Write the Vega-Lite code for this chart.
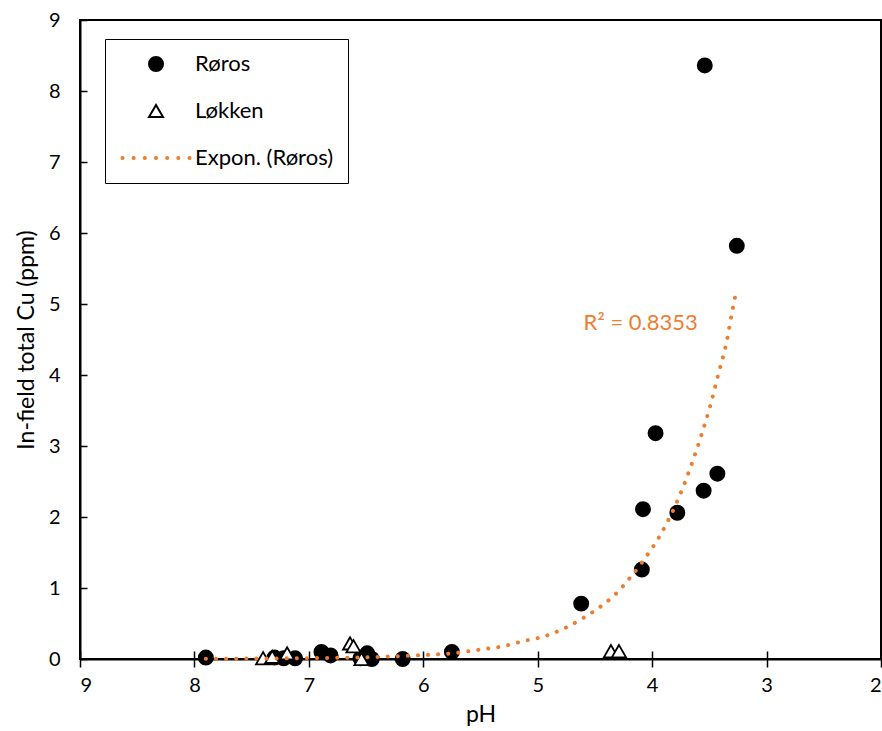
{
  "$schema": "https://vega.github.io/schema/vega-lite/v6.json",
  "width": 801,
  "height": 639,
  "autosize": {"type": "none"},
  "padding": {"left": 80, "top": 20, "right": 1, "bottom": 72},
  "background": "white",
  "datasets": {
    "points": [
      {"series": "Røros", "pH": 7.90, "cu": 0.02},
      {"series": "Røros", "pH": 7.30, "cu": 0.02},
      {"series": "Røros", "pH": 7.22, "cu": 0.01},
      {"series": "Røros", "pH": 7.12, "cu": 0.01},
      {"series": "Røros", "pH": 6.89, "cu": 0.10},
      {"series": "Røros", "pH": 6.81, "cu": 0.05},
      {"series": "Røros", "pH": 6.55, "cu": 0.01},
      {"series": "Røros", "pH": 6.49, "cu": 0.08},
      {"series": "Røros", "pH": 6.45, "cu": 0.0},
      {"series": "Røros", "pH": 6.18, "cu": 0.0},
      {"series": "Røros", "pH": 5.75, "cu": 0.10},
      {"series": "Røros", "pH": 4.62, "cu": 0.78},
      {"series": "Røros", "pH": 4.08, "cu": 2.11},
      {"series": "Røros", "pH": 4.09, "cu": 1.26},
      {"series": "Røros", "pH": 3.97, "cu": 3.18},
      {"series": "Røros", "pH": 3.78, "cu": 2.06},
      {"series": "Røros", "pH": 3.55, "cu": 2.37},
      {"series": "Røros", "pH": 3.43, "cu": 2.61},
      {"series": "Røros", "pH": 3.54, "cu": 8.36},
      {"series": "Røros", "pH": 3.26, "cu": 5.82},
      {"series": "Løkken", "pH": 7.40, "cu": 0.01},
      {"series": "Løkken", "pH": 7.32, "cu": 0.03},
      {"series": "Løkken", "pH": 7.19, "cu": 0.08},
      {"series": "Løkken", "pH": 6.64, "cu": 0.22},
      {"series": "Løkken", "pH": 6.61, "cu": 0.18},
      {"series": "Løkken", "pH": 6.54, "cu": 0.0},
      {"series": "Løkken", "pH": 4.36, "cu": 0.11},
      {"series": "Løkken", "pH": 4.29, "cu": 0.11}
    ],
    "trend": [
      {"pH": 7.90, "cu": 0.004},
      {"pH": 7.50, "cu": 0.006},
      {"pH": 7.00, "cu": 0.012},
      {"pH": 6.50, "cu": 0.025},
      {"pH": 6.00, "cu": 0.055},
      {"pH": 5.75, "cu": 0.08},
      {"pH": 5.47, "cu": 0.14},
      {"pH": 5.30, "cu": 0.18},
      {"pH": 5.13, "cu": 0.25},
      {"pH": 4.94, "cu": 0.32},
      {"pH": 4.77, "cu": 0.43},
      {"pH": 4.61, "cu": 0.57},
      {"pH": 4.45, "cu": 0.74},
      {"pH": 4.31, "cu": 0.93},
      {"pH": 4.19, "cu": 1.15},
      {"pH": 4.08, "cu": 1.38},
      {"pH": 3.92, "cu": 1.77},
      {"pH": 3.76, "cu": 2.30},
      {"pH": 3.66, "cu": 2.72},
      {"pH": 3.57, "cu": 3.15},
      {"pH": 3.49, "cu": 3.58},
      {"pH": 3.42, "cu": 4.02},
      {"pH": 3.35, "cu": 4.46},
      {"pH": 3.30, "cu": 4.90},
      {"pH": 3.26, "cu": 5.22}
    ],
    "annot": [
      {"pH": 4.10, "cu": 4.73, "label": "R² = 0.8353"}
    ]
  },
  "encoding": {
    "y": {
      "field": "cu", "type": "quantitative",
      "scale": {"domain": [0, 9], "nice": false},
      "axis": {"title": "In-field total Cu (ppm)", "values": [0, 1, 2, 3, 4, 5, 6, 7, 8, 9], "tickSize": -7, "labelPadding": 27, "titlePadding": 10}
    }
  },
  "layer": [
    {
      "data": {"name": "points"},
      "mark": {"type": "point", "size": 200, "opacity": 1, "strokeWidth": 1.8},
      "encoding": {
        "x": {
          "field": "pH", "type": "quantitative",
          "scale": {"domain": [2, 9], "reverse": true, "nice": false, "zero": false},
          "axis": {"title": "pH", "orient": "bottom", "values": [2, 3, 4, 5, 6, 7, 8, 9], "tickSize": 8, "labelPadding": 8, "titlePadding": 8}
        },
        "shape": {
          "field": "series", "type": "nominal",
          "scale": {
            "domain": ["Røros", "Løkken", "Expon. (Røros)"],
            "range": [
              "circle",
              "triangle-up",
              "M-4.936,0a0.15,0.15 0 1,0 0.3,0a0.15,0.15 0 1,0 -0.3,0Z M-3.34,0a0.15,0.15 0 1,0 0.3,0a0.15,0.15 0 1,0 -0.3,0Z M-1.745,0a0.15,0.15 0 1,0 0.3,0a0.15,0.15 0 1,0 -0.3,0Z M-0.15,0a0.15,0.15 0 1,0 0.3,0a0.15,0.15 0 1,0 -0.3,0Z M1.445,0a0.15,0.15 0 1,0 0.3,0a0.15,0.15 0 1,0 -0.3,0Z M3.04,0a0.15,0.15 0 1,0 0.3,0a0.15,0.15 0 1,0 -0.3,0Z M4.636,0a0.15,0.15 0 1,0 0.3,0a0.15,0.15 0 1,0 -0.3,0Z"
            ]
          },
          "legend": {
            "title": null, "orient": "none", "legendX": 25, "legendY": 19,
            "strokeColor": "black", "fillColor": "white", "padding": 14,
            "labelFont": "Lato", "labelFontSize": 22, "labelColor": "black",
            "symbolSize": 196, "symbolOffset": 26, "labelOffset": 28, "rowPadding": 25,
            "symbolStrokeWidth": 2,
            "encode": {
              "legend": {"update": {"strokeWidth": {"value": 2}}},
              "symbols": {"update": {"opacity": {"value": 1}}}
            }
          }
        },
        "fill": {
          "field": "series", "type": "nominal",
          "scale": {"domain": ["Røros", "Løkken", "Expon. (Røros)"], "range": ["black", "white", "#ED7D31"]}
        },
        "stroke": {
          "field": "series", "type": "nominal",
          "scale": {"domain": ["Røros", "Løkken", "Expon. (Røros)"], "range": ["black", "black", "#ED7D31"]}
        }
      }
    },
    {
      "data": {"name": "trend"},
      "mark": {"type": "line", "color": "#ED7D31", "strokeWidth": 4, "strokeDash": [0.1, 10], "strokeCap": "round", "interpolate": "monotone"},
      "encoding": {
        "x": {
          "field": "pH", "type": "quantitative",
          "axis": {"title": null, "orient": "bottom", "values": [2, 3, 4, 5, 6, 7, 8, 9], "tickSize": -8, "labels": false, "domain": false, "offset": 0}
        }
      }
    },
    {
      "data": {"name": "annot"},
      "mark": {"type": "text", "font": "Lato", "fontSize": 22, "color": "#ED7D31", "align": "center", "baseline": "middle"},
      "encoding": {
        "x": {"field": "pH", "type": "quantitative", "axis": null},
        "text": {"field": "label"}
      }
    }
  ],
  "resolve": {"axis": {"x": "independent"}},
  "config": {
    "font": "Lato",
    "view": {"stroke": "black", "strokeWidth": 2},
    "axis": {
      "grid": false, "domainColor": "black", "domainWidth": 2,
      "tickColor": "black", "tickWidth": 1.5,
      "labelColor": "black", "titleColor": "black",
      "labelFont": "Lato", "titleFont": "Lato",
      "labelFontSize": 20, "titleFontSize": 23, "titleFontWeight": "normal"
    }
  }
}
